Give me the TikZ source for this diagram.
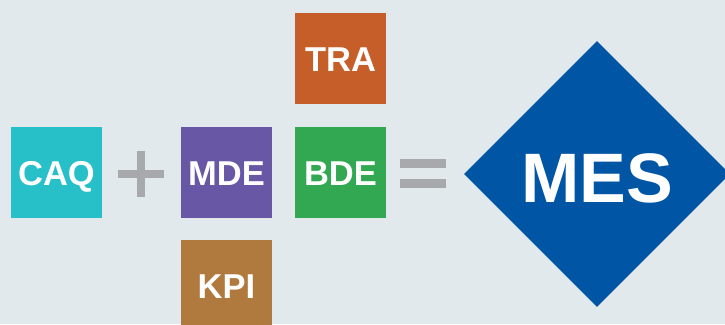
\documentclass[tikz,border=0pt]{standalone}
\usepackage{fontspec}
\setmainfont{Liberation Sans}
\usetikzlibrary{shapes.geometric}
\definecolor{bg}{HTML}{E1E9EC}
\definecolor{caqc}{HTML}{27BFC8}
\definecolor{mdec}{HTML}{6757A5}
\definecolor{kpic}{HTML}{B07A3E}
\definecolor{trac}{HTML}{C65E29}
\definecolor{bdec}{HTML}{33A853}
\definecolor{mesc}{HTML}{0055A5}
\definecolor{opc}{HTML}{A7A9AC}
\tikzset{
  tile/.style={rectangle, minimum size=91pt, inner sep=0pt, text=white,
    font=\fontsize{34.5}{34.5}\selectfont\bfseries, text height=25pt, text depth=0pt},
  opbar/.style={fill=opc},
}
\begin{document}
\begin{tikzpicture}[x=1pt,y=-1pt]
\useasboundingbox (0,0) rectangle (725,324);
\clip (0,0) rectangle (725,324);
\fill[bg] (0,0) rectangle (725,324);
\node[tile, fill=caqc] (caq) at (56.5,172.5) {CAQ};
\node[tile, fill=mdec] (mde) at (226.5,172.5) {MDE};
\node[tile, fill=kpic] (kpi) at (226.5,285.5) {KPI};
\node[tile, fill=trac] (tra) at (340.5,58.5) {TRA};
\node[tile, fill=bdec] (bde) at (340.5,172.5) {BDE};
\node[diamond, aspect=1, minimum width=266pt, minimum height=266pt, inner sep=0pt,
  fill=mesc, text=white, font=\fontsize{70}{70}\selectfont\bfseries,
  text height=56pt, text depth=0pt] (mes) at (597,174) {MES};
% plus
\coordinate (plus) at (141,174);
\fill[opbar] ([xshift=-23pt,yshift=4pt]plus) rectangle ([xshift=23pt,yshift=-4pt]plus);
\fill[opbar] ([xshift=-4pt,yshift=23pt]plus) rectangle ([xshift=4pt,yshift=-23pt]plus);
% equals
\coordinate (eq) at (423,173.5);
\fill[opbar] ([xshift=-23pt,yshift=14.5pt]eq) rectangle ([xshift=23pt,yshift=5.5pt]eq);
\fill[opbar] ([xshift=-23pt,yshift=-5.5pt]eq) rectangle ([xshift=23pt,yshift=-14.5pt]eq);
\end{tikzpicture}
\end{document}
